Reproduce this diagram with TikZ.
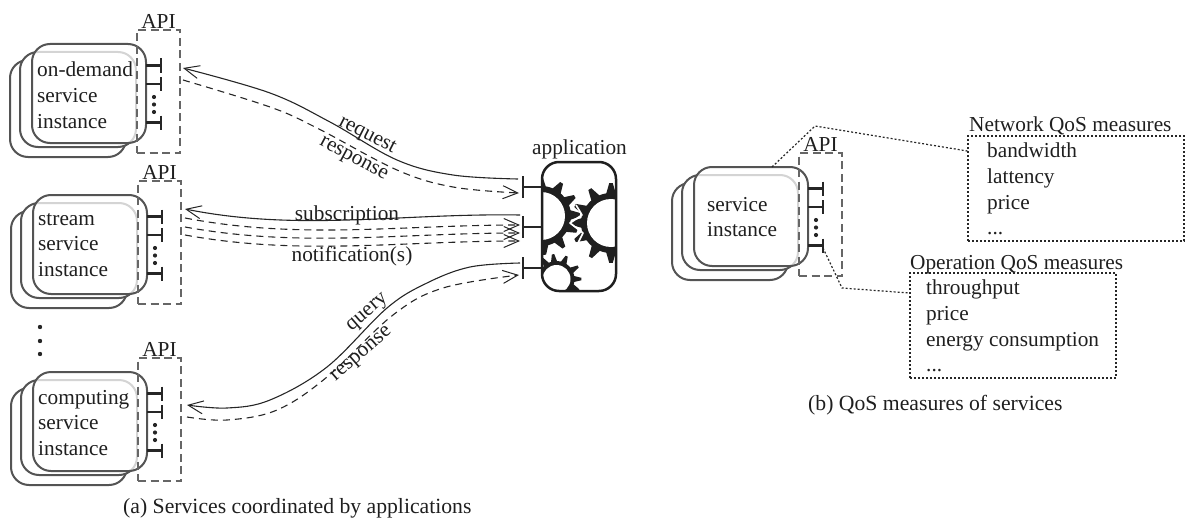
\documentclass[tikz,border=0pt]{standalone}
\usepackage{fontspec}
\setmainfont{Liberation Serif}
\usetikzlibrary{arrows.meta}
\definecolor{stackgray}{gray}{0.33}
\definecolor{apigray}{gray}{0.4}
\tikzset{
  txt/.style={font=\fontsize{21.3}{25.6}\selectfont,inner sep=0pt,text=black!88},
  captxt/.style={font=\fontsize{21.7}{26}\selectfont,inner sep=0pt,text=black!88},
  card/.style={draw=stackgray,line width=2pt,rounded corners=18pt,fill=white},
  frontcard/.style={draw=stackgray,line width=2pt,rounded corners=18pt,fill=white,fill opacity=0.75},
  apibox/.style={draw=apigray,line width=1.5pt,dash pattern=on 8pt off 4.5pt},
  port/.style={line width=2.4pt,black!85},
  solidarrow/.style={line width=1.1pt,black!85,-{Straight Barb[length=15pt,width=13pt,line width=1pt]}},
  dasharrow/.style={line width=1.1pt,black!85,dash pattern=on 7pt off 5pt,-{Straight Barb[length=15pt,width=13pt,line width=1pt,sep=0pt]}},
  leader/.style={line width=1.2pt,black!85,dash pattern=on 2pt off 2pt},
  qosbox/.style={draw=black!85,line width=1.2pt,dash pattern=on 2pt off 2pt},
}
% #1 prefix, #2 x offset, #3 y offset, #4 body text position
\newcommand{\svcstack}[4]{%
  \begin{scope}[shift={(#2,#3)}]
    \draw[card] (10,60) rectangle (126,157);
    \draw[card] (20,52) rectangle (136,147);
    \draw[frontcard] (32,44) rectangle (146,143);
    \node[apibox,minimum width=43pt,minimum height=123pt,inner sep=0pt] (#1api) at (158.5,91.5) {};
    \node[txt,anchor=base] (#1lab) at (158.5,28.5) {API};
    \foreach \n/\yy in {a/65.5,b/84,c/122.5}{
      \coordinate (#1\n0) at (146,\yy);
      \coordinate (#1\n1) at (161,\yy);
      \draw[port] (#1\n0) -- (#1\n1);
      \draw[port] (161,\yy-7) -- (161,\yy+7);
    }
    \foreach \yy in {97,104.5,112}{\fill[black!85] (154,\yy) circle (2.1);}
    \node[txt,anchor=north west,align=left] (#1txt) at (#4) {\stacktext};
  \end{scope}%
}
% #1 cx #2 cy #3 rhole #4 rroot #5 router #6 half width #7 angle list
\newcommand{\gearwheel}[7]{%
  \begin{scope}[shift={(#1,#2)}]
    \fill[black!88] (0,0) circle (#4);
    \foreach \a in {#7}{
      \fill[black!88] (-\a-#6:#4-1) -- (-\a-#6*0.25:#5) -- (-\a+#6*0.25:#5) -- (-\a+#6:#4-1) -- cycle;
    }
    \fill[white] (0,0) circle (#3);
  \end{scope}%
}
\begin{document}
\begin{tikzpicture}[x=1pt,y=-1pt]
\useasboundingbox (0,0) rectangle (1188,519);
\def\stacktext{on-demand\\service\\instance}
\svcstack{d}{0}{0}{37,62}
\def\stacktext{stream\\service\\instance}
\svcstack{s}{1}{151}{37,62}
\def\stacktext{computing\\service\\instance}
\svcstack{c}{1}{328}{37,62}
\def\stacktext{service\\instance}
\svcstack{q}{662}{123}{45,74}

\foreach \yy in {327,341,354}{\fill[black!85] (40,\yy) circle (2.2);}

% application
\begin{scope}
  \clip[rounded corners=17pt] (542,162) rectangle (616,291);
  \gearwheel{541}{216}{24}{30}{39}{10}{90,58,30,2,-23,-54,-85}
  \gearwheel{611}{223}{24}{30}{40}{10}{90,122,154,180,206,239,270}
  \gearwheel{556.5}{279}{14}{18}{25}{11}{125,98,66,30,0,-27,-55}
\end{scope}
\draw[white,line width=1.7pt,line join=round] (576,205) -- (582,215) -- (570,223) -- (583,233) -- (577,245);
\node[draw=black!88,line width=2.5pt,rounded corners=17pt,minimum width=74pt,minimum height=129pt,inner sep=0pt] (app) at (579,226.5) {};
\node[txt,anchor=base] (applab) at (579.5,154) {application};
\foreach \n/\yy in {p/187,r/227,t/268}{
  \coordinate (\n0) at (523,\yy);
  \draw[port] (\n0) -- (app.west |- \n0);
  \draw[port] (523,\yy-11) -- (523,\yy+11);
}
\coordinate (reqa) at (518,179);
\coordinate (reqb) at (183,68);
\coordinate (resa) at (183,80);
\coordinate (resb) at (519,193);
\coordinate (suba) at (520,215);
\coordinate (subb) at (185,209);
\coordinate (na1) at (185,218);\coordinate (nb1) at (520,225);
\coordinate (na2) at (185,227);\coordinate (nb2) at (520,233);
\coordinate (na3) at (185,235);\coordinate (nb3) at (520,241);
\coordinate (qa) at (520,263);
\coordinate (qb) at (187,405);
\coordinate (ra) at (187,417);
\coordinate (rb) at (519,275);

\draw[solidarrow] plot[smooth,tension=0.6] coordinates {(reqa) (453,175) (397,160) (330,122) (270,93) (reqb)};
\draw[dasharrow] plot[smooth,tension=0.6] coordinates {(resa) (270,107) (317,128) (397,170) (453,187) (resb)};
\draw[solidarrow] (suba) .. controls (400,213) and (300,232) .. (subb);
\draw[dasharrow] (na1) .. controls (300,240) and (400,225) .. (nb1);
\draw[dasharrow] (na2) .. controls (300,248) and (400,233) .. (nb2);
\draw[dasharrow] (na3) .. controls (300,256) and (400,241) .. (nb3);
\draw[solidarrow] plot[smooth,tension=0.6] coordinates {(qa) (470,267) (427,283) (387,308) (327,367) (270,400) (227,408) (qb)};
\draw[dasharrow] plot[smooth,tension=0.6] coordinates {(ra) (227,420) (277,410) (327,377) (393,315) (443,288) (rb)};

\node[txt,rotate=-27] (lreq) at (367,136) {request};
\node[txt,rotate=-28] (lres) at (353,160) {response};
\node[txt] (lsub) at (347,215) {subscription};
\node[txt] (lnot) at (352,256) {notification(s)};
\node[txt,rotate=41] (lq) at (368,313) {query};
\node[txt,rotate=41] (lr2) at (362,355) {response};
\node[captxt,anchor=base west] (capa) at (123,513) {(a) Services coordinated by applications};

% (b)
\node[qosbox,minimum width=216pt,minimum height=105pt,inner sep=0pt] (netbox) at (1076,188.5) {};
\node[txt,anchor=base west] (netlab) at (969,131) {Network QoS measures};
\node[txt,anchor=north west,align=left] (nettxt) at (987,143) {bandwidth\\lattency\\price\\...};
\node[qosbox,minimum width=206pt,minimum height=105pt,inner sep=0pt] (opbox) at (1013,325.5) {};
\node[txt,anchor=base west] (oplab) at (910,269) {Operation QoS measures};
\node[txt,anchor=north west,align=left] (optxt) at (926,280) {throughput\\price\\energy consumption\\...};
\node[captxt,anchor=base west] (capb) at (808,410) {(b) QoS measures of services};
\coordinate (n1) at (772,167);
\coordinate (n2) at (815,126);
\coordinate (n3) at (968,151);
\coordinate (o1) at (823,248);
\coordinate (o2) at (842,288);
\coordinate (o3) at (910,293);
\draw[leader] (n1) -- (n2) -- (n3 -| netbox.west);
\draw[leader] (o1) -- (o2) -- (o3 -| opbox.west);
\end{tikzpicture}
\end{document}
